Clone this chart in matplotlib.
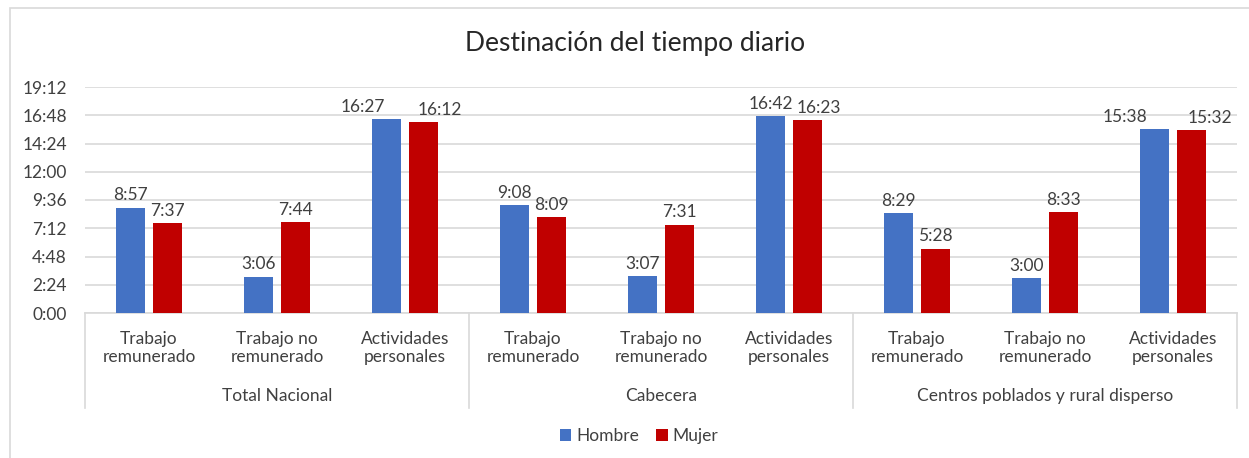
import matplotlib
matplotlib.use("Agg")
import matplotlib.pyplot as plt
from matplotlib.patches import Rectangle, Patch
from matplotlib.ticker import FixedLocator, FuncFormatter
import numpy as np

plt.rcParams['font.family'] = ['Lato', 'DejaVu Sans']

title = "Destinación del tiempo diario"
groups = ["Total Nacional", "Cabecera", "Centros poblados y rural disperso"]
categories = ["Trabajo\nremunerado", "Trabajo no\nremunerado", "Actividades\npersonales"]
series_names = ["Hombre", "Mujer"]
hombre = ["8:57", "3:06", "16:27", "9:08", "3:07", "16:42", "8:29", "3:00", "15:38"]
mujer = ["7:37", "7:44", "16:12", "8:09", "7:31", "16:23", "5:28", "8:33", "15:32"]
y_ticks = ["0:00", "2:24", "4:48", "7:12", "9:36", "12:00", "14:24", "16:48", "19:12"]
colors = ["#4472C4", "#C00000"]
# manual horizontal nudges of data labels (pixels), as in the reference
hombre_label_dx = [0, 0, -24, 0, 0, 0, 0, 0, -30]
mujer_label_dx = [0, 0, 16, 0, 0, 12, 0, 0, 19]


def to_min(s):
    h, m = s.split(":")
    return int(h) * 60 + int(m)


def fmt(v, pos=None):
    v = int(round(v))
    return f"{v // 60}:{v % 60:02d}"


W, H = 1249, 458
fig = plt.figure(figsize=(W / 100, H / 100), dpi=100)
fig.patch.set_facecolor("white")
fig.add_artist(Rectangle((10 / W, -0.05), 1.2, (H - 8.5) / H + 0.05,
                         transform=fig.transFigure, fill=False,
                         edgecolor="#d9d9d9", linewidth=1.2))

left, right, y0, ytop = 85, 1237, 313, 87
ax = fig.add_axes([left / W, (H - y0) / H, (right - left) / W, (y0 - ytop) / H])

FS = 12.5
TXT = "#404040"
n = len(hombre)
x = np.arange(n)
bw = 0.232
gap = 0.055
h_vals = [to_min(s) for s in hombre]
m_vals = [to_min(s) for s in mujer]
for vals, labels, dxs, off, c in [(h_vals, hombre, hombre_label_dx, -(bw + gap) / 2, colors[0]),
                                  (m_vals, mujer, mujer_label_dx, (bw + gap) / 2, colors[1])]:
    bars = ax.bar(x + off, vals, width=bw, color=c, zorder=3)
    for b, lab, dx in zip(bars, labels, dxs):
        ax.annotate(lab, (b.get_x() + b.get_width() / 2, b.get_height()),
                    xytext=(dx * 0.72, 3), textcoords="offset points",
                    ha="center", va="bottom", fontsize=FS, color=TXT)

yt = [to_min(s) for s in y_ticks]
ax.set_ylim(0, yt[-1])
ax.yaxis.set_major_locator(FixedLocator(yt))
ax.yaxis.set_major_formatter(FuncFormatter(fmt))
ax.set_xlim(-0.5, n - 0.5)
ax.set_xticks([])
ax.grid(axis="y", color="#d9d9d9", linewidth=1.2, zorder=0)
for s in ["top", "right", "left"]:
    ax.spines[s].set_visible(False)
ax.spines["bottom"].set_color("#d9d9d9")
ax.spines["bottom"].set_linewidth(1.2)
ax.tick_params(axis="y", length=0, labelsize=FS, labelcolor=TXT, pad=13)

trans = ax.get_xaxis_transform()
span = y0 - ytop
line_bottom = -(408 - y0) / span
for b in np.arange(-0.5, n, 3):
    ax.plot([b, b], [0, line_bottom], transform=trans, color="#d9d9d9",
            linewidth=1.2, clip_on=False)

for i in range(n):
    ax.text(i, -(348 - y0) / span, categories[i % 3], transform=trans,
            ha="center", va="center", fontsize=FS, color=TXT,
            linespacing=1.2)
for g, name in enumerate(groups):
    ax.text(g * 3 + 1, -(396 - y0) / span, name, transform=trans,
            ha="center", va="center", fontsize=FS, color=TXT)

fig.text(635 / W, (H - 44) / H, title, ha="center", va="center",
         fontsize=19, color="#262626")

handles = [Patch(facecolor=c) for c in colors]
fig.legend(handles, series_names, loc="center", bbox_to_anchor=(639 / W, (H - 436) / H),
           ncol=2, frameon=False, fontsize=FS, handlelength=0.65, handleheight=0.65,
           handletextpad=0.3, columnspacing=1.0, labelcolor=TXT)

fig.savefig("out.png", dpi=100, facecolor="white")
